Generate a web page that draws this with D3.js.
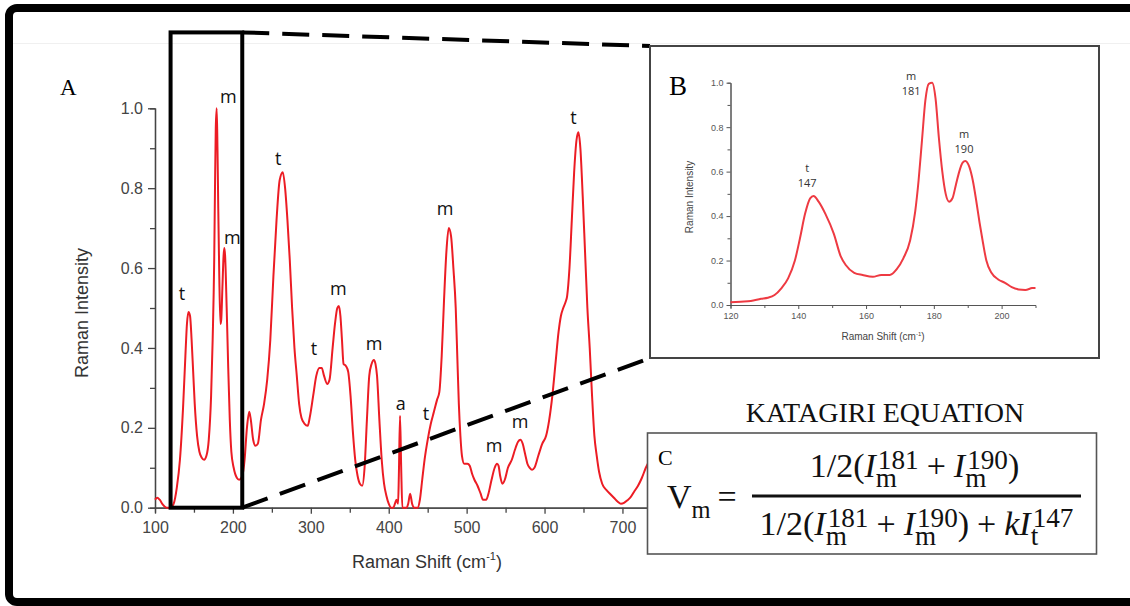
<!DOCTYPE html>
<html>
<head>
<meta charset="utf-8">
<script src="https://cdn.jsdelivr.net/npm/d3@7"></script>
<style>
body { margin: 0; background: #fff; }
svg { display: block; }
</style>
</head>
<body>
<div id="chart"></div>
<script>
//------------------------1. DATA-------------------------------//
// panel A: full spectrum
const shiftA = [100,103,106,110,115,120,124,128,132,136,139,141,143,145,147,149,151,154,157,160,163,166,169,172,174,
  176,177,178,179.2,180.2,181.2,182.5,184,185,186.5,188,189,190,192,194,196,198,201,205,208,212,215,218,221,223,226,229,232,236,240,
  244,248,252,256,260,264,267,270,273,276,279,282,285,288,292,296,299,303,307,311,314,317,321,324,328,331,334,336,338,340,
  342,345,348,351,354,357,360,363,366,369,372,375,378,381,383,385,388,391,394,397,400,403,406,408,410,412,413,414.5,416,417.5,
  419,421,423,425,427.5,430,433,437,440,443,446,450,454,458,462,465,468,471,474,477,480,483,486,488,490,492,494,497,501,504,
  507,510,514,518,521,525,528,532,536,539,541,543,546,549,553,558,562,566,569,572,575,578,581,584,587,592,597,602,606,610,
  614,618,621,624,627,629,632,635,638,641,643.5,646,649,652,655,658,661,664,667,670,674,679,684,689,694,698,702,706,710,715,
  720,725,730,735,740,745];
const intensityA = [0.02,0.025,0.02,0.008,0.0,0.0,0.01,0.05,0.12,0.25,0.38,0.46,0.49,0.48,0.42,0.34,0.26,0.18,0.14,0.125,0.12,0.13,0.17,0.28,0.42,
  0.62,0.8,0.95,1.0,0.9,0.75,0.58,0.46,0.47,0.55,0.63,0.65,0.63,0.5,0.35,0.22,0.14,0.1,0.075,0.07,0.08,0.12,0.2,0.24,0.22,0.17,0.155,0.16,0.22,0.26,
  0.32,0.42,0.58,0.72,0.82,0.84,0.8,0.72,0.62,0.5,0.4,0.33,0.26,0.225,0.21,0.205,0.23,0.28,0.33,0.35,0.35,0.33,0.31,0.32,0.4,0.46,0.5,0.505,0.48,0.42,
  0.36,0.355,0.34,0.28,0.19,0.12,0.08,0.06,0.055,0.1,0.22,0.33,0.36,0.37,0.36,0.33,0.22,0.12,0.06,0.03,0.01,0.0,0.0,0.01,0.02,0.01,0.08,0.23,0.1,0.0,
  0.0,0.0,0.0,0.01,0.035,0.01,0.0,0.0,0.02,0.07,0.12,0.17,0.21,0.24,0.27,0.29,0.38,0.52,0.64,0.70,0.68,0.6,0.5,0.38,0.26,0.18,0.13,0.11,0.11,0.105,
  0.085,0.07,0.055,0.035,0.02,0.02,0.035,0.07,0.1,0.11,0.105,0.08,0.06,0.07,0.1,0.12,0.145,0.165,0.17,0.16,0.135,0.11,0.1,0.095,0.1,0.13,0.16,0.18,0.22,0.28,
  0.36,0.44,0.48,0.5,0.515,0.53,0.6,0.72,0.84,0.92,0.94,0.9,0.78,0.64,0.5,0.4,0.28,0.18,0.13,0.09,0.06,0.045,0.035,0.025,0.015,0.01,0.012,0.018,0.025,0.04,
  0.055,0.075,0.1,0.12,0.14,0.16];
const peakNamesA = ["t","m","m","t","t","m","m","a","t","m","m","m","t"];
const peakShiftA = [134.7,194.1,199.2,258.3,304.1,335.3,381.1,415.4,447.9,472.3,535.2,568.6,637];
const peakIntA   = [0.52,1.013,0.66,0.858,0.382,0.533,0.395,0.245,0.22,0.733,0.14,0.199,0.961];
const ticksAx = [100,200,300,400,500,600,700];
const minorAx = [150,250,350,450,550,650];
const ticksAy = [0,0.2,0.4,0.6,0.8,1.0];
const minorAy = [0.1,0.3,0.5,0.7,0.9];
const zoomShift = [120,212];
const zoomTop = 1.19;

// panel B: zoom 120-210
const shiftB = [120,123,126,129,131,133,135,137,139,140.5,142,143.5,144.5,146,148,150.5,152.5,154,156.5,159,162,164.5,167,169,171,
  173,174.5,175.5,176.5,177.5,178.5,179.5,180.5,181.5,182.5,183.5,184.5,185.5,186.5,187.5,188.5,189.3,190.5,191.5,192.5,193.5,194.5,195.5,197,199,
  201,203,205,207,209,210];
const intensityB = [0.012,0.015,0.018,0.028,0.033,0.045,0.075,0.12,0.2,0.3,0.41,0.48,0.49,0.465,0.41,0.32,0.22,0.18,0.145,0.135,0.127,0.135,0.135,0.16,0.21,
  0.29,0.42,0.56,0.74,0.92,0.995,1.0,0.93,0.75,0.6,0.5,0.465,0.48,0.54,0.6,0.64,0.648,0.62,0.56,0.47,0.37,0.28,0.2,0.145,0.115,
  0.1,0.08,0.07,0.068,0.076,0.077];
const peakNamesB = ["t","m","m"];
const peakWaveB  = ["147","181","190"];
const peakShiftB = [142.6,173.3,188.9];
const peakIntB   = [0.6,1.012,0.75];
const ticksBx = [120,140,160,180,200];
const minorBx = [130,150,170,190];
const ticksBy = [0,0.2,0.4,0.6,0.8,1.0];
const minorBy = [0.1,0.3,0.5,0.7,0.9];

//-----------------------------SVG-------------------------------//
const width = 1130;
const height = 606;
const sans = "'Liberation Sans', Arial, sans-serif";
const serif = "'Liberation Serif', 'Times New Roman', serif";
const labelFont = "'Open Sans', sans-serif";

const svg = d3.select("#chart").append("svg")
    .attr("width", width)
    .attr("height", height);

svg.append("rect").attr("width", width).attr("height", height).attr("fill", "#fff");
svg.append("line")
    .attr("x1", 13).attr("x2", width).attr("y1", 43.5).attr("y2", 43.5)
    .attr("stroke", "#f0f0f0").attr("stroke-width", 1);

//----------------------------SCALES-----------------------------//
const xA = d3.scaleLinear().domain([100, 750]).range([155, 661.4]);
const yA = d3.scaleLinear().domain([0, 1]).range([507.7, 108.3]);
const xB = d3.scaleLinear().domain([120, 210]).range([730.5, 1035.5]);
const yB = d3.scaleLinear().domain([0, 1]).range([305, 82.7]);

function styleAxis(g, color, size) {
    g.select(".domain").attr("stroke", color).attr("stroke-width", 1.3);
    g.selectAll(".tick line").attr("stroke", color).attr("stroke-width", 1.3);
    g.selectAll(".tick text").attr("fill", color)
        .style("font-family", sans).style("font-size", size + "px");
}

//-------------------------PANEL A-------------------------------//
const gA = svg.append("g");

gA.append("g")
    .attr("transform", "translate(0," + yA(0) + ")")
    .call(d3.axisBottom(xA).tickValues(minorAx).tickSize(5).tickFormat(""))
    .call(function(g) { styleAxis(g, "#444", 16); });
gA.append("g")
    .attr("transform", "translate(0," + yA(0) + ")")
    .call(d3.axisBottom(xA).tickValues(ticksAx).tickSize(6).tickSizeOuter(0).tickPadding(8)
        .tickFormat(d3.format("d")))
    .call(function(g) { styleAxis(g, "#444", 16); });

gA.append("g")
    .attr("transform", "translate(" + xA(100) + ",0)")
    .call(d3.axisLeft(yA).tickValues(minorAy).tickSize(5).tickFormat(""))
    .call(function(g) { styleAxis(g, "#444", 16); });
gA.append("g")
    .attr("transform", "translate(" + xA(100) + ",0)")
    .call(d3.axisLeft(yA).tickValues(ticksAy).tickSize(7).tickSizeOuter(0).tickPadding(5)
        .tickFormat(d3.format(".1f")))
    .call(function(g) { styleAxis(g, "#444", 16); });

gA.append("text")
    .attr("transform", "translate(82," + 313 + ") rotate(-90)")
    .attr("text-anchor", "middle")
    .attr("dominant-baseline", "central")
    .attr("fill", "#333")
    .style("font-family", sans).style("font-size", "18px")
    .text("Raman Intensity");

const xlabA = gA.append("text")
    .attr("x", 427).attr("y", 568)
    .attr("text-anchor", "middle")
    .attr("fill", "#333")
    .style("font-family", sans).style("font-size", "18px");
xlabA.append("tspan").text("Raman Shift (cm");
xlabA.append("tspan").attr("dy", -8).style("font-size", "11px").text("-1");
xlabA.append("tspan").attr("dy", 8).text(")");

const dataA = shiftA.map(function(d, i) { return {x: d, y: intensityA[i]}; });
gA.append("path")
    .datum(dataA)
    .attr("fill", "none")
    .attr("stroke", "#ec1c24")
    .attr("stroke-width", 2)
    .attr("stroke-linejoin", "round")
    .attr("d", d3.line()
        .x(function(d) { return xA(d.x); })
        .y(function(d) { return yA(d.y); })
        .curve(d3.curveMonotoneX));

gA.selectAll(".peak")
    .data(peakNamesA)
    .enter().append("text")
    .attr("x", function(d, i) { return xA(peakShiftA[i]); })
    .attr("y", function(d, i) { return yA(peakIntA[i]); })
    .attr("text-anchor", "middle")
    .attr("fill", "#111")
    .style("font-family", labelFont).style("font-size", "18px")
    .text(function(d) { return d; });

gA.append("text")
    .attr("x", 60).attr("y", 95)
    .style("font-family", serif).style("font-size", "23px")
    .text("A");

// zoom window
gA.append("rect")
    .attr("x", xA(zoomShift[0])).attr("y", yA(zoomTop))
    .attr("width", xA(zoomShift[1]) - xA(zoomShift[0]))
    .attr("height", yA(0) - yA(zoomTop))
    .attr("fill", "none").attr("stroke", "#000").attr("stroke-width", 4);

//-------------------------PANEL B-------------------------------//
const boxB = {x: 650, y: 46, w: 449, h: 312};

svg.append("path")
    .attr("d", "M" + xA(zoomShift[1]) + "," + yA(zoomTop) + "L" + boxB.x + "," + boxB.y
        + "M" + xA(zoomShift[1]) + "," + yA(0) + "L" + boxB.x + "," + (boxB.y + boxB.h))
    .attr("fill", "none").attr("stroke", "#000").attr("stroke-width", 4)
    .attr("stroke-dasharray", "27,13");

const gB = svg.append("g");
gB.append("rect")
    .attr("x", boxB.x).attr("y", boxB.y).attr("width", boxB.w).attr("height", boxB.h)
    .attr("fill", "#fff").attr("stroke", "#444").attr("stroke-width", 2);

gB.append("g")
    .attr("transform", "translate(0," + yB(0) + ")")
    .call(d3.axisBottom(xB).tickValues(minorBx).tickSize(3).tickFormat(""))
    .call(function(g) { styleAxis(g, "#555", 9); });
gB.append("g")
    .attr("transform", "translate(0," + yB(0) + ")")
    .call(d3.axisBottom(xB).tickValues(ticksBx).tickSize(4).tickSizeOuter(0).tickPadding(4)
        .tickFormat(d3.format("d")))
    .call(function(g) { styleAxis(g, "#555", 9); });
gB.append("g")
    .attr("transform", "translate(" + xB(120) + ",0)")
    .call(d3.axisLeft(yB).tickValues(minorBy).tickSize(3).tickFormat(""))
    .call(function(g) { styleAxis(g, "#555", 9); });
gB.append("g")
    .attr("transform", "translate(" + xB(120) + ",0)")
    .call(d3.axisLeft(yB).tickValues(ticksBy).tickSize(4).tickSizeOuter(0).tickPadding(3)
        .tickFormat(d3.format(".1f")))
    .call(function(g) { styleAxis(g, "#555", 9); });
gB.selectAll(".domain, .tick line").attr("stroke-width", 1);

gB.append("text")
    .attr("transform", "translate(689,197) rotate(-90)")
    .attr("text-anchor", "middle")
    .attr("dominant-baseline", "central")
    .attr("fill", "#444")
    .style("font-family", sans).style("font-size", "10px")
    .text("Raman Intensity");

const xlabB = gB.append("text")
    .attr("x", 883).attr("y", 339.5)
    .attr("text-anchor", "middle")
    .attr("fill", "#444")
    .style("font-family", sans).style("font-size", "10px");
xlabB.append("tspan").text("Raman Shift (cm");
xlabB.append("tspan").attr("dy", -4).style("font-size", "6px").text("-1");
xlabB.append("tspan").attr("dy", 4).text(")");

const dataB = shiftB.map(function(d, i) { return {x: d, y: intensityB[i]}; });
gB.append("path")
    .datum(dataB)
    .attr("fill", "none")
    .attr("stroke", "#ee3a42")
    .attr("stroke-width", 2)
    .attr("d", d3.line()
        .x(function(d) { return xB(d.x); })
        .y(function(d) { return yB(d.y); })
        .curve(d3.curveMonotoneX));

const peaksB = gB.selectAll(".peakb")
    .data(peakNamesB)
    .enter().append("text")
    .attr("text-anchor", "middle")
    .attr("fill", "#333")
    .style("font-family", labelFont).style("font-size", "11px");
peaksB.append("tspan")
    .attr("x", function(d, i) { return xB(peakShiftB[i]); })
    .attr("y", function(d, i) { return yB(peakIntB[i]); })
    .text(function(d) { return d; });
peaksB.append("tspan")
    .attr("x", function(d, i) { return xB(peakShiftB[i]); })
    .attr("dy", 15)
    .text(function(d, i) { return peakWaveB[i]; });

gB.append("text")
    .attr("x", 669).attr("y", 95)
    .style("font-family", serif).style("font-size", "27px")
    .text("B");

//-------------------------PANEL C-------------------------------//
const gC = svg.append("g");
gC.append("text")
    .attr("x", 885).attr("y", 422)
    .attr("text-anchor", "middle")
    .attr("fill", "#111")
    .style("font-family", serif).style("font-size", "28px")
    .text("KATAGIRI EQUATION");

gC.append("rect")
    .attr("x", 647.5).attr("y", 433).attr("width", 449).attr("height", 121)
    .attr("fill", "#fff").attr("stroke", "#555").attr("stroke-width", 1.6);

gC.append("text")
    .attr("x", 658).attr("y", 465)
    .style("font-family", serif).style("font-size", "22px")
    .text("C");

// measure a piece of text, then lay a whole row out as one <text>
const meas = svg.append("text").style("font-family", serif).attr("opacity", 0);
function textWidth(str, size, italic) {
    meas.style("font-size", size + "px")
        .style("font-style", italic ? "italic" : "normal")
        .text(str);
    return meas.node().getComputedTextLength();
}

function mathRow(parent, parts, size, scr) {
    const ss = size * scr;
    const pieces = [];
    let cx = 0;
    parts.forEach(function(p) {
        if (p.sub !== undefined) {
            const ws = p.sup ? textWidth(p.sup, ss, false) + 2 : 0;
            const wb = textWidth(p.sub, ss, false);
            if (p.sup) pieces.push({t: p.sup, x: cx + 2, y: -0.24 * size, size: ss});
            pieces.push({t: p.sub, x: cx, y: 0.28 * size, size: ss});
            cx += Math.max(ws, wb);
        } else {
            const pad = p.pad || 0;
            pieces.push({t: p.t, x: cx + pad, y: 0, size: size, italic: p.italic});
            cx += textWidth(p.t, size, p.italic) + 2 * pad;
        }
    });
    const txt = parent.append("text")
        .style("font-family", serif).attr("fill", "#111");
    txt.selectAll("tspan")
        .data(pieces)
        .enter().append("tspan")
        .attr("x", function(d) { return d.x; })
        .attr("y", function(d) { return d.y; })
        .style("font-size", function(d) { return d.size + "px"; })
        .style("font-style", function(d) { return d.italic ? "italic" : "normal"; })
        .text(function(d) { return d.t; });
    return {g: txt, w: cx};
}

const numParts = [
    {t: "1/2("}, {t: "I", italic: true}, {sup: "181", sub: "m"},
    {t: "+", pad: 8}, {t: "I", italic: true}, {sup: "190", sub: "m"}, {t: ")"}
];
const denParts = numParts.concat([
    {t: "+", pad: 8}, {t: "k", italic: true}, {t: "I", italic: true}, {sup: "147", sub: "t"}
]);

const barX = [752, 1081];
const barMid = (barX[0] + barX[1]) / 2;
const num = mathRow(gC, numParts, 34, 0.8);
num.g.attr("transform", "translate(" + (barMid - 2 - num.w / 2) + ",477)");
const den = mathRow(gC, denParts, 34, 0.8);
den.g.attr("transform", "translate(" + (barMid - den.w / 2) + ",535)");

gC.append("line")
    .attr("x1", barX[0]).attr("x2", barX[1]).attr("y1", 496).attr("y2", 496)
    .attr("stroke", "#111").attr("stroke-width", 3);

const lhs = mathRow(gC, [{t: "V"}, {sub: "m"}, {t: "=", pad: 7}], 34, 0.72);
lhs.g.attr("transform", "translate(667,508)");
meas.remove();

//-------------------------FRAME---------------------------------//
svg.append("rect")
    .attr("x", 9).attr("y", 8).attr("width", 1300).attr("height", 594)
    .attr("rx", 8)
    .attr("fill", "none").attr("stroke", "#000").attr("stroke-width", 8);
</script>
</body>
</html>
